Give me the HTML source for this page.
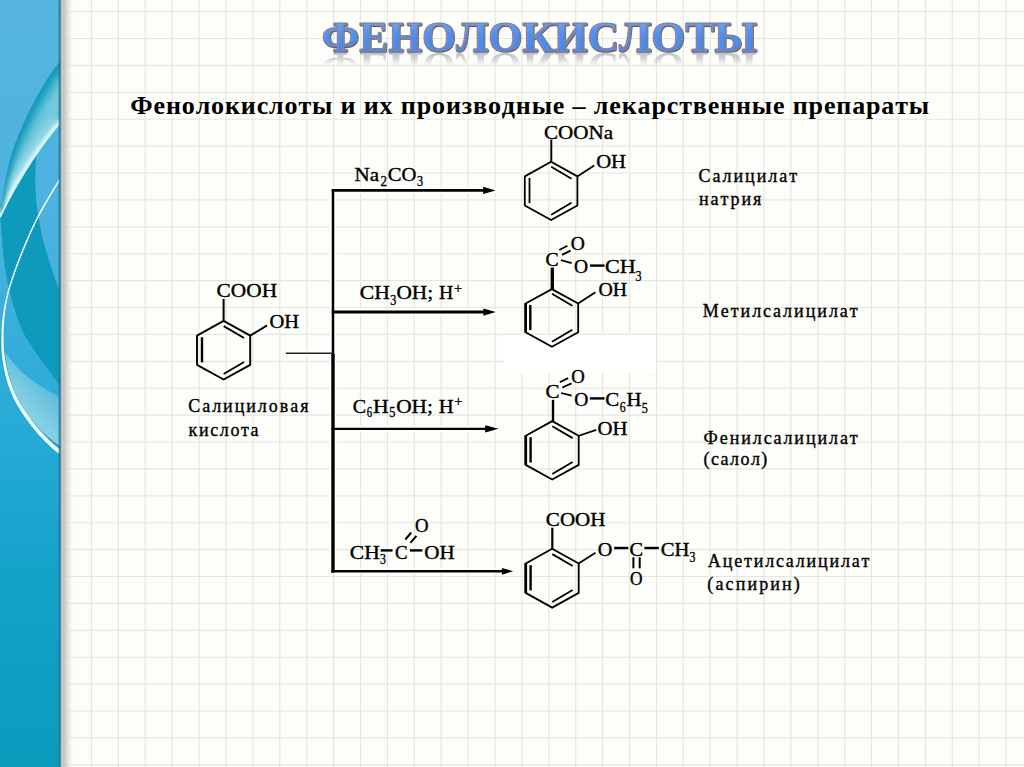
<!DOCTYPE html>
<html><head><meta charset="utf-8"><style>
html,body{margin:0;padding:0;width:1024px;height:767px;overflow:hidden;background:#fdfdf9;}
svg{position:absolute;left:0;top:0;display:block;}
text{font-family:"Liberation Serif",serif;font-kerning:none;}
text.c{stroke:#000;stroke-width:0.35px;}
</style></head><body>
<svg width="1024" height="767" viewBox="0 0 1024 767">
<defs>
<linearGradient id="barg" x1="0" y1="0" x2="0" y2="1">
<stop offset="0" stop-color="#56b5e0"/><stop offset="0.3" stop-color="#4bb2de"/><stop offset="0.57" stop-color="#25aad5"/><stop offset="0.75" stop-color="#14a2c9"/><stop offset="1" stop-color="#0a9bbd"/>
</linearGradient>
<linearGradient id="shad" x1="0" y1="0" x2="1" y2="0">
<stop offset="0" stop-color="#bdbdb8" stop-opacity="1"/><stop offset="0.3" stop-color="#cfcfca" stop-opacity="0.9"/><stop offset="1" stop-color="#f4f4ef" stop-opacity="0"/>
</linearGradient>
<linearGradient id="tfill" x1="0" y1="0" x2="0" y2="1">
<stop offset="0" stop-color="#7eb0f8"/><stop offset="0.45" stop-color="#4f8ff0"/><stop offset="1" stop-color="#4686ea"/>
</linearGradient>
<linearGradient id="rfade" x1="0" y1="0" x2="0" y2="1">
<stop offset="0" stop-color="#fff" stop-opacity="1"/><stop offset="0.5" stop-color="#fff" stop-opacity="0.6"/><stop offset="1" stop-color="#fff" stop-opacity="0"/>
</linearGradient>
<linearGradient id="bandA" x1="0" y1="0" x2="1" y2="1">
<stop offset="0" stop-color="#1a9ec2"/><stop offset="0.45" stop-color="#2aaec9"/><stop offset="0.8" stop-color="#6cc8dd"/><stop offset="1" stop-color="#a8e0ec"/>
</linearGradient>
<linearGradient id="paleg" x1="0" y1="1" x2="0.6" y2="0">
<stop offset="0" stop-color="#c8ecf3" stop-opacity="0.9"/><stop offset="0.6" stop-color="#9ad6e6" stop-opacity="0.7"/><stop offset="1" stop-color="#7cc9e2" stop-opacity="0.3"/>
</linearGradient>
<filter id="blur4" x="-50%" y="-50%" width="200%" height="200%"><feGaussianBlur stdDeviation="4"/></filter>
<filter id="blur2" x="-50%" y="-50%" width="200%" height="200%"><feGaussianBlur stdDeviation="2"/></filter>
<filter id="blur1" x="-50%" y="-50%" width="200%" height="200%"><feGaussianBlur stdDeviation="1"/></filter>
<filter id="blur05" x="-10%" y="-10%" width="120%" height="120%"><feGaussianBlur stdDeviation="0.5"/></filter>
<mask id="rmask" maskUnits="userSpaceOnUse" x="300" y="50" width="500" height="20"><rect x="300" y="51.5" width="500" height="14" fill="url(#rfade)"/></mask>
</defs>

<path d="M64.60 0V767 M91.50 0V767 M118.40 0V767 M145.30 0V767 M172.20 0V767 M199.10 0V767 M226.00 0V767 M252.90 0V767 M279.80 0V767 M306.70 0V767 M333.60 0V767 M360.50 0V767 M387.40 0V767 M414.30 0V767 M441.20 0V767 M468.10 0V767 M495.00 0V767 M521.90 0V767 M548.80 0V767 M575.70 0V767 M602.60 0V767 M629.50 0V767 M656.40 0V767 M683.30 0V767 M710.20 0V767 M737.10 0V767 M764.00 0V767 M790.90 0V767 M817.80 0V767 M844.70 0V767 M871.60 0V767 M898.50 0V767 M925.40 0V767 M952.30 0V767 M979.20 0V767 M1006.10 0V767 M60 11.60H1024 M60 38.50H1024 M60 65.40H1024 M60 92.30H1024 M60 119.20H1024 M60 146.10H1024 M60 173.00H1024 M60 199.90H1024 M60 226.80H1024 M60 253.70H1024 M60 280.60H1024 M60 307.50H1024 M60 334.40H1024 M60 361.30H1024 M60 388.20H1024 M60 415.10H1024 M60 442.00H1024 M60 468.90H1024 M60 495.80H1024 M60 522.70H1024 M60 549.60H1024 M60 576.50H1024 M60 603.40H1024 M60 630.30H1024 M60 657.20H1024 M60 684.10H1024 M60 711.00H1024 M60 737.90H1024 M60 764.80H1024" stroke="#e6e6e1" stroke-width="1.15" fill="none"/>
<rect x="0" y="0" width="60" height="767" fill="url(#barg)"/>
<path d="M37 151 C34 175 35 200 39 220 C43 245 52 270 60 293 L60 386 C48 368 32 350 22 330 C14 310 6 285 3 251 C2 240 1 228 0 215 L0 205 Z" fill="#0d9abc"/>
<clipPath id="clipA"><path d="M60 61 C45 80 25 115 12.7 151 C7 168 3 190 0 212 L0 217 C20 175 45 140 60 123 Z"/></clipPath>
<path d="M60 61 C45 80 25 115 12.7 151 C7 168 3 190 0 212 L0 217 C20 175 45 140 60 123 Z" fill="#27a9c8"/>
<g clip-path="url(#clipA)">
<path d="M68 82 C58 100 46 120 36 140 C26 160 14 185 4 215" stroke="#7fcde0" stroke-width="20" fill="none" filter="url(#blur4)" opacity="0.9"/>
<path d="M62 121 C45 140 20 175 -2 219" stroke="#b4e6f0" stroke-width="14" fill="none" filter="url(#blur4)" opacity="0.85"/>
<path d="M62 121 C45 140 20 175 -2 219" stroke="#d6f5f9" stroke-width="6" fill="none" filter="url(#blur1)"/>
<path d="M60 61 C45 80 25 115 12.7 151 C7 168 3 190 0 212" stroke="#1492b6" stroke-width="7" fill="none" filter="url(#blur2)" opacity="0.8"/>
</g>
<path d="M60 123 C45 140 20 175 0 217" stroke="#d8f6fa" stroke-width="1.8" fill="none"/>
<path d="M5 352 C18 372 38 386 60 397 L60 446 C46 436 32 424 22 410 C14 398 8 380 5 352 Z" fill="url(#paleg)"/>
<path d="M2 335 C2 362 8 385 18 403 C28 420 42 437 60 449" stroke="#1aa2c8" stroke-width="4" fill="none"/>
<path d="M58.87 179.60 L57.44 181.87 L56.00 184.16 L54.57 186.47 L53.14 188.80 L51.71 191.14 L50.29 193.49 L48.89 195.84 L47.50 198.20 L46.12 200.54 L44.77 202.88 L43.45 205.20 L42.16 207.50 L40.89 209.78 L39.66 212.02 L38.48 214.24 L37.33 216.42 L36.23 218.56 L35.17 220.65 L34.17 222.69 L33.22 224.68 L32.01 227.30 L30.76 230.05 L29.48 232.91 L28.16 235.88 L26.82 238.95 L25.47 242.11 L24.10 245.35 L22.72 248.67 L21.35 252.04 L19.98 255.47 L18.62 258.95 L17.27 262.46 L15.95 266.00 L14.65 269.56 L13.39 273.13 L12.17 276.70 L10.99 280.26 L9.86 283.80 L8.79 287.32 L7.78 290.80 L7.25 292.92 L6.75 295.01 L6.27 297.09 L5.80 299.18 L5.34 301.28 L4.89 303.40 L4.46 305.53 L4.06 307.69 L3.68 309.89 L3.32 312.13 L2.99 314.41 L2.69 316.75 L2.42 319.14 L2.17 321.59 L1.96 324.12 L1.77 326.72 L1.62 329.40 L1.50 332.17 L1.42 335.04 L1.37 337.99 L1.31 341.60 L1.34 345.21 L1.47 348.79 L1.69 352.36 L2.01 355.89 L2.41 359.41 L2.90 362.88 L3.47 366.33 L4.13 369.73 L4.88 373.10 L5.70 376.42 L6.60 379.70 L7.58 382.92 L8.64 386.10 L9.76 389.22 L10.96 392.28 L12.23 395.27 L13.57 398.21 L14.98 401.07 L16.46 403.87 L18.01 406.48 L19.61 409.08 L21.26 411.68 L22.98 414.29 L24.75 416.91 L26.59 419.51 L28.49 422.11 L30.45 424.70 L32.47 427.28 L34.55 429.84 L36.70 432.37 L38.90 434.88 L41.17 437.36 L43.50 439.81 L45.89 442.22 L48.34 444.59 L50.85 446.91 L53.43 449.19 L56.07 451.41 L58.75 453.56 L61.25 450.44 L58.59 448.33 L56.01 446.18 L53.49 443.98 L51.02 441.73 L48.61 439.44 L46.26 437.10 L43.97 434.73 L41.74 432.32 L39.56 429.88 L37.45 427.41 L35.39 424.93 L33.39 422.42 L31.45 419.89 L29.57 417.36 L27.75 414.81 L25.98 412.27 L24.28 409.72 L22.63 407.17 L21.05 404.63 L19.54 402.13 L18.08 399.46 L16.67 396.70 L15.32 393.88 L14.04 390.99 L12.81 388.03 L11.66 385.02 L10.57 381.94 L9.56 378.81 L8.62 375.63 L7.75 372.40 L6.96 369.12 L6.25 365.80 L5.62 362.44 L5.07 359.04 L4.60 355.61 L4.23 352.14 L3.94 348.65 L3.74 345.13 L3.64 341.59 L3.63 338.01 L3.62 335.07 L3.65 332.23 L3.71 329.49 L3.80 326.83 L3.93 324.25 L4.10 321.75 L4.29 319.32 L4.52 316.95 L4.77 314.64 L5.05 312.37 L5.36 310.15 L5.69 307.97 L6.05 305.82 L6.43 303.70 L6.83 301.59 L7.26 299.50 L7.73 297.43 L8.21 295.35 L8.71 293.27 L9.22 291.20 L10.23 287.74 L11.29 284.25 L12.42 280.72 L13.59 277.18 L14.81 273.62 L16.07 270.07 L17.36 266.52 L18.68 262.99 L20.02 259.49 L21.37 256.03 L22.74 252.60 L24.11 249.24 L25.48 245.93 L26.85 242.70 L28.20 239.55 L29.54 236.49 L30.85 233.52 L32.13 230.67 L33.37 227.93 L34.58 225.32 L35.52 223.35 L36.51 221.32 L37.56 219.24 L38.66 217.11 L39.80 214.95 L40.98 212.74 L42.21 210.50 L43.47 208.23 L44.76 205.94 L46.08 203.62 L47.42 201.30 L48.79 198.96 L50.17 196.61 L51.58 194.26 L52.99 191.92 L54.41 189.58 L55.84 187.26 L57.28 184.95 L58.71 182.66 L60.13 180.40 Z" fill="#f2fdff"/>
<rect x="58.6" y="0" width="1.2" height="767" fill="#17809a" opacity="0.8"/>
<rect x="59.6" y="0" width="1.2" height="767" fill="#2d5d6e"/>
<rect x="60.8" y="0" width="1.4" height="767" fill="#b9bdc7"/>
<rect x="62.2" y="0" width="12" height="767" fill="url(#shad)"/>
<g mask="url(#rmask)"><g transform="translate(0,103.6) scale(1,-1)">
<text x="321.82" y="51.00" font-size="42" font-weight="bold" textLength="435.12" lengthAdjust="spacingAndGlyphs" fill="#a2a6b0" opacity="0.75">ФЕНОЛОКИСЛОТЫ</text>
</g></g>
<text x="322.32" y="51.80" font-size="42" font-weight="bold" textLength="435.12" lengthAdjust="spacingAndGlyphs" fill="#5a5c70" stroke="#5a5c70" stroke-width="1.5" stroke-linejoin="round" filter="url(#blur05)">ФЕНОЛОКИСЛОТЫ</text>
<text x="321.82" y="51.00" font-size="42" font-weight="bold" textLength="435.12" lengthAdjust="spacingAndGlyphs" fill="url(#tfill)" stroke="#8285a0" stroke-width="1.25" stroke-linejoin="round">ФЕНОЛОКИСЛОТЫ</text>
<text transform="translate(130.35,0) scale(1.05,1)" x="0" y="113.60" font-size="24.8" font-weight="bold" letter-spacing="0.815" fill="#000" >Фенолокислоты и их производные – лекарственные препараты</text>
<rect x="504" y="335" width="152" height="38" fill="#ffffff"/>
<line x1="333.00" y1="188.00" x2="333.00" y2="574.00" stroke="#ffffff" stroke-width="6.5" stroke-linecap="butt"/>
<line x1="284.50" y1="353.30" x2="333.00" y2="353.30" stroke="#ffffff" stroke-width="4.5" stroke-linecap="butt"/>
<line x1="330.50" y1="190.40" x2="496.00" y2="190.40" stroke="#ffffff" stroke-width="6" stroke-linecap="butt"/>
<line x1="330.50" y1="312.10" x2="496.00" y2="312.10" stroke="#ffffff" stroke-width="6" stroke-linecap="butt"/>
<line x1="330.50" y1="428.80" x2="499.00" y2="428.80" stroke="#ffffff" stroke-width="5.5" stroke-linecap="butt"/>
<line x1="330.50" y1="571.30" x2="514.00" y2="571.30" stroke="#ffffff" stroke-width="5.5" stroke-linecap="butt"/>
<line x1="333.00" y1="189.20" x2="333.00" y2="353.30" stroke="#000" stroke-width="2.5" stroke-linecap="butt"/>
<line x1="333.00" y1="353.30" x2="333.00" y2="572.60" stroke="#000" stroke-width="3.4" stroke-linecap="butt"/>
<line x1="285.70" y1="353.30" x2="333.00" y2="353.30" stroke="#222" stroke-width="1.4" stroke-linecap="butt"/>
<line x1="331.70" y1="190.40" x2="484.10" y2="190.40" stroke="#000" stroke-width="2.6" stroke-linecap="butt"/>
<path d="M483.10 186.80 L495.60 190.40 L483.10 194.00 Z" fill="#000"/>
<line x1="331.70" y1="312.10" x2="484.40" y2="312.10" stroke="#000" stroke-width="3.0" stroke-linecap="butt"/>
<path d="M483.40 308.50 L495.90 312.10 L483.40 315.70 Z" fill="#000"/>
<line x1="331.70" y1="428.80" x2="486.20" y2="428.80" stroke="#000" stroke-width="2.3" stroke-linecap="butt"/>
<path d="M485.20 425.20 L498.60 428.80 L485.20 432.40 Z" fill="#000"/>
<line x1="331.30" y1="571.30" x2="502.90" y2="571.30" stroke="#000" stroke-width="2.6" stroke-linecap="butt"/>
<path d="M501.90 567.90 L513.20 571.30 L501.90 574.70 Z" fill="#000"/>
<text class="c" x="354.54" y="180.70" font-size="18" font-weight="normal" textLength="24.60" lengthAdjust="spacingAndGlyphs" fill="#000" >Na</text>
<text class="c" x="380.48" y="186.00" font-size="14" font-weight="normal" textLength="6.49" lengthAdjust="spacingAndGlyphs" fill="#000" >2</text>
<text class="c" x="387.70" y="180.70" font-size="18" font-weight="normal" textLength="28.69" lengthAdjust="spacingAndGlyphs" fill="#000" >CO</text>
<text class="c" x="416.97" y="186.30" font-size="14" font-weight="normal" textLength="6.05" lengthAdjust="spacingAndGlyphs" fill="#000" >3</text>
<text class="c" x="359.86" y="299.40" font-size="18" font-weight="normal" textLength="30.12" lengthAdjust="spacingAndGlyphs" fill="#000" >CH</text>
<text class="c" x="390.27" y="305.00" font-size="14" font-weight="normal" textLength="6.05" lengthAdjust="spacingAndGlyphs" fill="#000" >3</text>
<text class="c" x="396.48" y="299.40" font-size="18" font-weight="normal" textLength="36.71" lengthAdjust="spacingAndGlyphs" fill="#000" >OH;</text>
<text class="c" x="438.98" y="299.40" font-size="18" font-weight="normal" textLength="14.25" lengthAdjust="spacingAndGlyphs" fill="#000" >H</text>
<text class="c" x="454.03" y="292.50" font-size="14" font-weight="normal" textLength="8.12" lengthAdjust="spacingAndGlyphs" fill="#000" >+</text>
<text class="c" x="352.83" y="412.80" font-size="18" font-weight="normal" textLength="13.32" lengthAdjust="spacingAndGlyphs" fill="#000" >C</text>
<text class="c" x="366.69" y="416.80" font-size="14" font-weight="normal" textLength="5.38" lengthAdjust="spacingAndGlyphs" fill="#000" >6</text>
<text class="c" x="372.93" y="412.80" font-size="18" font-weight="normal" textLength="15.66" lengthAdjust="spacingAndGlyphs" fill="#000" >H</text>
<text class="c" x="389.23" y="417.00" font-size="14" font-weight="normal" textLength="6.21" lengthAdjust="spacingAndGlyphs" fill="#000" >5</text>
<text class="c" x="396.18" y="412.80" font-size="18" font-weight="normal" textLength="36.71" lengthAdjust="spacingAndGlyphs" fill="#000" >OH;</text>
<text class="c" x="438.66" y="412.80" font-size="18" font-weight="normal" textLength="14.90" lengthAdjust="spacingAndGlyphs" fill="#000" >H</text>
<text class="c" x="454.33" y="406.00" font-size="14" font-weight="normal" textLength="8.12" lengthAdjust="spacingAndGlyphs" fill="#000" >+</text>
<text class="c" x="349.87" y="558.60" font-size="18" font-weight="normal" textLength="29.91" lengthAdjust="spacingAndGlyphs" fill="#000" >CH</text>
<text class="c" x="380.08" y="564.30" font-size="14" font-weight="normal" textLength="5.93" lengthAdjust="spacingAndGlyphs" fill="#000" >3</text>
<line x1="380.70" y1="550.40" x2="392.50" y2="550.40" stroke="#000" stroke-width="2.4" stroke-linecap="butt"/>
<text class="c" x="395.07" y="558.60" font-size="18" font-weight="normal" textLength="12.62" lengthAdjust="spacingAndGlyphs" fill="#000" >C</text>
<line x1="410.00" y1="550.40" x2="422.30" y2="550.40" stroke="#000" stroke-width="2.4" stroke-linecap="butt"/>
<text class="c" x="424.28" y="558.60" font-size="18" font-weight="normal" textLength="30.48" lengthAdjust="spacingAndGlyphs" fill="#000" >OH</text>
<text class="c" x="414.98" y="531.50" font-size="18" font-weight="normal" textLength="13.54" lengthAdjust="spacingAndGlyphs" fill="#000" >O</text>
<line x1="405.40" y1="539.50" x2="411.20" y2="532.50" stroke="#000" stroke-width="2.0" stroke-linecap="butt"/>
<line x1="410.40" y1="542.90" x2="416.40" y2="535.90" stroke="#000" stroke-width="2.0" stroke-linecap="butt"/>
<polyline points="197.00,335.55 223.60,320.90 250.20,335.55 250.20,364.85 223.60,379.50 197.00,364.85" fill="none" stroke="#000" stroke-width="1.9" stroke-linejoin="miter"/>
<line x1="197.00" y1="365.35" x2="197.00" y2="335.05" stroke="#000" stroke-width="1.9" stroke-linecap="butt"/>
<line x1="202.00" y1="337.20" x2="202.00" y2="362.40" stroke="#000" stroke-width="2.4" stroke-linecap="butt"/>
<line x1="223.70" y1="326.10" x2="244.10" y2="338.00" stroke="#000" stroke-width="1.9" stroke-linecap="butt"/>
<line x1="223.70" y1="374.00" x2="244.00" y2="362.00" stroke="#000" stroke-width="1.9" stroke-linecap="butt"/>
<line x1="223.60" y1="299.00" x2="223.60" y2="321.40" stroke="#000" stroke-width="2.0" stroke-linecap="butt"/>
<line x1="249.70" y1="335.85" x2="267.10" y2="325.40" stroke="#000" stroke-width="1.9" stroke-linecap="butt"/>
<text class="c" x="216.57" y="297.40" font-size="18" font-weight="normal" textLength="60.50" lengthAdjust="spacingAndGlyphs" fill="#000" >COOH</text>
<text class="c" x="269.41" y="327.90" font-size="18" font-weight="normal" textLength="29.64" lengthAdjust="spacingAndGlyphs" fill="#000" >OH</text>
<text class="c" x="188.21" y="412.40" font-size="18" font-weight="normal" letter-spacing="1.964" fill="#000" >Салициловая</text>
<text class="c" x="188.62" y="436.30" font-size="18" font-weight="normal" letter-spacing="1.611" fill="#000" >кислота</text>
<polyline points="524.80,176.35 551.10,161.80 577.40,176.35 577.40,205.45 551.10,220.00 524.80,205.45" fill="none" stroke="#000" stroke-width="1.8" stroke-linejoin="miter"/>
<line x1="524.80" y1="205.95" x2="524.80" y2="175.85" stroke="#000" stroke-width="1.8" stroke-linecap="butt"/>
<line x1="529.50" y1="177.90" x2="529.50" y2="203.10" stroke="#000" stroke-width="1.8" stroke-linecap="butt"/>
<line x1="551.20" y1="166.80" x2="571.60" y2="178.70" stroke="#000" stroke-width="1.8" stroke-linecap="butt"/>
<line x1="551.20" y1="214.70" x2="571.50" y2="202.70" stroke="#000" stroke-width="1.8" stroke-linecap="butt"/>
<line x1="551.30" y1="139.60" x2="551.30" y2="162.30" stroke="#000" stroke-width="1.9" stroke-linecap="butt"/>
<line x1="576.90" y1="176.65" x2="594.20" y2="165.40" stroke="#000" stroke-width="1.8" stroke-linecap="butt"/>
<text class="c" x="543.99" y="139.20" font-size="18" font-weight="normal" textLength="69.05" lengthAdjust="spacingAndGlyphs" fill="#000" >COONa</text>
<text class="c" x="596.20" y="168.00" font-size="18" font-weight="normal" textLength="29.85" lengthAdjust="spacingAndGlyphs" fill="#000" >OH</text>
<text class="c" x="698.61" y="182.00" font-size="18" font-weight="normal" letter-spacing="1.974" fill="#000" >Салицилат</text>
<text class="c" x="699.02" y="205.40" font-size="18" font-weight="normal" letter-spacing="1.970" fill="#000" >натрия</text>
<polyline points="525.60,303.50 551.90,289.10 578.20,303.50 578.20,332.30 551.90,346.70 525.60,332.30" fill="none" stroke="#000" stroke-width="1.8" stroke-linejoin="miter"/>
<line x1="525.60" y1="332.80" x2="525.60" y2="303.00" stroke="#000" stroke-width="2.8" stroke-linecap="butt"/>
<line x1="530.30" y1="304.90" x2="530.30" y2="330.10" stroke="#000" stroke-width="2.4" stroke-linecap="butt"/>
<line x1="552.00" y1="293.80" x2="572.40" y2="305.70" stroke="#000" stroke-width="1.8" stroke-linecap="butt"/>
<line x1="552.00" y1="341.70" x2="572.30" y2="329.70" stroke="#000" stroke-width="1.8" stroke-linecap="butt"/>
<line x1="552.30" y1="267.60" x2="552.30" y2="289.70" stroke="#000" stroke-width="3.3" stroke-linecap="butt"/>
<line x1="577.70" y1="303.80" x2="595.40" y2="292.30" stroke="#000" stroke-width="1.8" stroke-linecap="butt"/>
<text class="c" x="545.55" y="265.80" font-size="18" font-weight="normal" textLength="13.09" lengthAdjust="spacingAndGlyphs" fill="#000" >C</text>
<text class="c" x="570.85" y="250.30" font-size="18" font-weight="normal" textLength="14.10" lengthAdjust="spacingAndGlyphs" fill="#000" >O</text>
<line x1="559.30" y1="250.00" x2="567.40" y2="245.70" stroke="#000" stroke-width="1.8" stroke-linecap="butt"/>
<line x1="562.00" y1="254.90" x2="570.60" y2="250.60" stroke="#000" stroke-width="1.8" stroke-linecap="butt"/>
<line x1="561.00" y1="260.20" x2="571.70" y2="263.10" stroke="#000" stroke-width="1.8" stroke-linecap="butt"/>
<text class="c" x="574.05" y="273.40" font-size="18" font-weight="normal" textLength="14.10" lengthAdjust="spacingAndGlyphs" fill="#000" >O</text>
<line x1="590.00" y1="265.60" x2="604.50" y2="265.60" stroke="#000" stroke-width="2.4" stroke-linecap="butt"/>
<text class="c" x="605.04" y="273.40" font-size="18" font-weight="normal" textLength="30.76" lengthAdjust="spacingAndGlyphs" fill="#000" >CH</text>
<text class="c" x="635.47" y="280.80" font-size="14" font-weight="normal" textLength="6.05" lengthAdjust="spacingAndGlyphs" fill="#000" >3</text>
<text class="c" x="598.54" y="295.60" font-size="18" font-weight="normal" textLength="28.59" lengthAdjust="spacingAndGlyphs" fill="#000" >OH</text>
<text class="c" x="702.73" y="317.40" font-size="18" font-weight="normal" letter-spacing="1.985" fill="#000" >Метилсалицилат</text>
<polyline points="525.70,435.70 552.20,421.10 578.70,435.70 578.70,464.90 552.20,479.50 525.70,464.90" fill="none" stroke="#000" stroke-width="1.8" stroke-linejoin="miter"/>
<line x1="525.70" y1="465.40" x2="525.70" y2="435.20" stroke="#000" stroke-width="2.8" stroke-linecap="butt"/>
<line x1="530.60" y1="437.30" x2="530.60" y2="462.50" stroke="#000" stroke-width="2.4" stroke-linecap="butt"/>
<line x1="552.30" y1="426.20" x2="572.70" y2="438.10" stroke="#000" stroke-width="1.8" stroke-linecap="butt"/>
<line x1="552.30" y1="474.10" x2="572.60" y2="462.10" stroke="#000" stroke-width="1.8" stroke-linecap="butt"/>
<line x1="553.00" y1="399.80" x2="553.00" y2="421.60" stroke="#000" stroke-width="2.4" stroke-linecap="butt"/>
<line x1="578.20" y1="436.00" x2="596.30" y2="429.80" stroke="#000" stroke-width="1.8" stroke-linecap="butt"/>
<text class="c" x="545.49" y="398.30" font-size="18" font-weight="normal" textLength="14.02" lengthAdjust="spacingAndGlyphs" fill="#000" >C</text>
<text class="c" x="571.28" y="383.10" font-size="18" font-weight="normal" textLength="13.54" lengthAdjust="spacingAndGlyphs" fill="#000" >O</text>
<line x1="559.90" y1="382.20" x2="568.10" y2="378.10" stroke="#000" stroke-width="1.8" stroke-linecap="butt"/>
<line x1="562.30" y1="387.50" x2="571.60" y2="383.40" stroke="#000" stroke-width="1.8" stroke-linecap="butt"/>
<line x1="561.10" y1="393.00" x2="571.60" y2="395.70" stroke="#000" stroke-width="1.8" stroke-linecap="butt"/>
<text class="c" x="574.25" y="406.00" font-size="18" font-weight="normal" textLength="14.10" lengthAdjust="spacingAndGlyphs" fill="#000" >O</text>
<line x1="589.80" y1="398.40" x2="604.50" y2="398.40" stroke="#000" stroke-width="2.4" stroke-linecap="butt"/>
<text class="c" x="605.19" y="406.00" font-size="18" font-weight="normal" textLength="14.02" lengthAdjust="spacingAndGlyphs" fill="#000" >C</text>
<text class="c" x="619.65" y="412.30" font-size="14" font-weight="normal" textLength="5.85" lengthAdjust="spacingAndGlyphs" fill="#000" >6</text>
<text class="c" x="626.55" y="406.00" font-size="18" font-weight="normal" textLength="15.01" lengthAdjust="spacingAndGlyphs" fill="#000" >H</text>
<text class="c" x="641.74" y="412.90" font-size="14" font-weight="normal" textLength="6.08" lengthAdjust="spacingAndGlyphs" fill="#000" >5</text>
<text class="c" x="597.60" y="435.20" font-size="18" font-weight="normal" textLength="29.96" lengthAdjust="spacingAndGlyphs" fill="#000" >OH</text>
<text class="c" x="703.62" y="443.50" font-size="18" font-weight="normal" letter-spacing="1.918" fill="#000" >Фенилсалицилат</text>
<text class="c" x="703.56" y="465.40" font-size="18" font-weight="normal" letter-spacing="1.475" fill="#000" >(салол)</text>
<polyline points="525.70,563.50 552.20,548.80 578.70,563.50 578.70,592.90 552.20,607.60 525.70,592.90" fill="none" stroke="#000" stroke-width="1.8" stroke-linejoin="miter"/>
<line x1="525.70" y1="593.40" x2="525.70" y2="563.00" stroke="#000" stroke-width="2.8" stroke-linecap="butt"/>
<line x1="530.60" y1="565.20" x2="530.60" y2="590.40" stroke="#000" stroke-width="2.4" stroke-linecap="butt"/>
<line x1="552.30" y1="554.10" x2="572.70" y2="566.00" stroke="#000" stroke-width="1.8" stroke-linecap="butt"/>
<line x1="552.30" y1="602.00" x2="572.60" y2="590.00" stroke="#000" stroke-width="1.8" stroke-linecap="butt"/>
<line x1="552.30" y1="527.70" x2="552.30" y2="549.30" stroke="#000" stroke-width="2.2" stroke-linecap="butt"/>
<line x1="578.20" y1="563.80" x2="595.50" y2="552.70" stroke="#000" stroke-width="1.8" stroke-linecap="butt"/>
<text class="c" x="545.89" y="525.80" font-size="18" font-weight="normal" textLength="59.58" lengthAdjust="spacingAndGlyphs" fill="#000" >COOH</text>
<text class="c" x="597.72" y="556.30" font-size="18" font-weight="normal" textLength="14.55" lengthAdjust="spacingAndGlyphs" fill="#000" >O</text>
<line x1="614.20" y1="548.00" x2="628.30" y2="548.00" stroke="#000" stroke-width="2.4" stroke-linecap="butt"/>
<text class="c" x="629.42" y="556.30" font-size="18" font-weight="normal" textLength="13.55" lengthAdjust="spacingAndGlyphs" fill="#000" >C</text>
<line x1="644.40" y1="548.00" x2="658.80" y2="548.00" stroke="#000" stroke-width="2.4" stroke-linecap="butt"/>
<text class="c" x="660.70" y="556.30" font-size="18" font-weight="normal" textLength="28.65" lengthAdjust="spacingAndGlyphs" fill="#000" >CH</text>
<text class="c" x="689.58" y="561.60" font-size="14" font-weight="normal" textLength="5.93" lengthAdjust="spacingAndGlyphs" fill="#000" >3</text>
<line x1="633.40" y1="557.30" x2="633.40" y2="568.30" stroke="#000" stroke-width="2.0" stroke-linecap="butt"/>
<line x1="639.70" y1="557.30" x2="639.70" y2="568.30" stroke="#000" stroke-width="2.0" stroke-linecap="butt"/>
<text class="c" x="630.04" y="584.70" font-size="18" font-weight="normal" textLength="12.52" lengthAdjust="spacingAndGlyphs" fill="#000" >O</text>
<text class="c" x="707.87" y="566.70" font-size="18" font-weight="normal" letter-spacing="1.839" fill="#000" >Ацетилсалицилат</text>
<text class="c" x="707.26" y="590.00" font-size="18" font-weight="normal" letter-spacing="2.135" fill="#000" >(аспирин)</text>
</svg></body></html>
